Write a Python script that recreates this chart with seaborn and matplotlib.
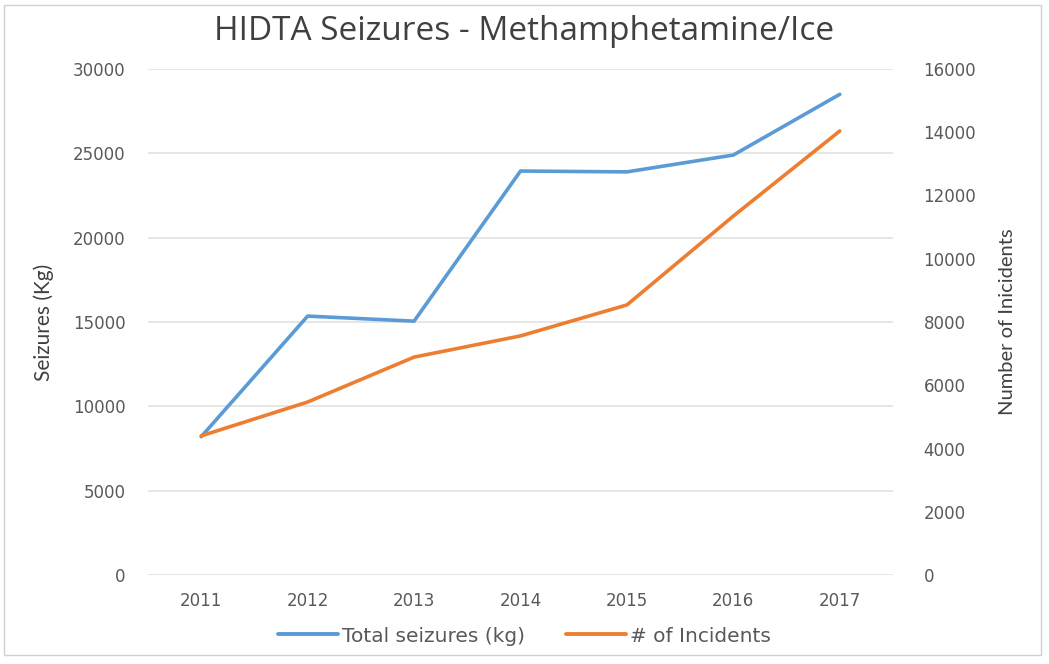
import matplotlib
matplotlib.use("Agg")
import matplotlib.pyplot as plt
import seaborn as sns
import pandas as pd
from matplotlib.patches import Rectangle
from matplotlib.lines import Line2D

years = ["2011", "2012", "2013", "2014", "2015", "2016", "2017"]
seizures_kg = [8200, 15350, 15050, 23950, 23900, 24900, 28500]
incidents = [4400, 5470, 6890, 7560, 8540, 11350, 14040]
left_ticks = [0, 5000, 10000, 15000, 20000, 25000, 30000]
right_ticks = [0, 2000, 4000, 6000, 8000, 10000, 12000, 14000, 16000]

sns.set_theme(style="white")
plt.rcParams['font.family'] = ['DejaVu Sans']

blue = "#5B9BD5"
orange = "#ED7D31"
tick_col = "#595959"

fig = plt.figure(figsize=(10.49, 6.64), dpi=100)
ax = fig.add_axes([148/1049, 1-575/664, (893-148)/1049, (575-69)/664])
ax2 = ax.twinx()

df = pd.DataFrame({"year": years, "seizures": seizures_kg, "incidents": incidents})
sns.lineplot(data=df, x="year", y="seizures", ax=ax, color=blue, linewidth=2.6, sort=False)
sns.lineplot(data=df, x="year", y="incidents", ax=ax2, color=orange, linewidth=2.6, sort=False)

ax.set_xlim(-0.5, len(years) - 0.5)
ax.set_ylim(0, 30000)
ax2.set_ylim(0, 16000)
ax.set_yticks(left_ticks)
ax2.set_yticks(right_ticks)
ax.set_yticklabels([str(v) for v in left_ticks])
ax2.set_yticklabels([str(v) for v in right_ticks])

ax.grid(axis="y", color="#E1E1E1", linewidth=1.2)
ax.grid(axis="x", visible=False)
ax2.grid(False)
for a in (ax, ax2):
    for s in a.spines.values():
        s.set_visible(False)
    a.tick_params(axis="both", length=0, labelsize=12, labelcolor=tick_col)
ax.tick_params(axis="y", pad=16)
ax2.tick_params(axis="y", pad=22)
ax.tick_params(axis="x", pad=12)

ax.set_xlabel("")
ax.set_ylabel("Seizures (Kg)", fontsize=15, color="#404040", family=["Lato", "DejaVu Sans"], labelpad=14)
ax2.set_ylabel("Number of Inicidents", fontsize=14.5, color="#404040", family=["Lato", "DejaVu Sans"], labelpad=16, rotation=90)

fig.text(0.5, 1 - 31/664, "HIDTA Seizures - Methamphetamine/Ice", ha="center", va="center",
         fontsize=24, color="#404040", family=["Open Sans", "DejaVu Sans"])

handles = [Line2D([], [], color=blue, linewidth=2.8), Line2D([], [], color=orange, linewidth=2.8)]
fig.legend(handles, ["Total seizures (kg)", "# of Incidents"], loc="center",
           bbox_to_anchor=(0.5, 1 - 636/664), ncol=2, frameon=False, fontsize=14.5,
           labelcolor=tick_col, handlelength=3.0, columnspacing=2.0, handletextpad=0.2)

fig.patches.append(Rectangle((0.004, 0.013), 0.988, 0.98, transform=fig.transFigure,
                             fill=False, edgecolor="#D0D0D0", linewidth=1.0))

fig.savefig("out.png", dpi=100)
